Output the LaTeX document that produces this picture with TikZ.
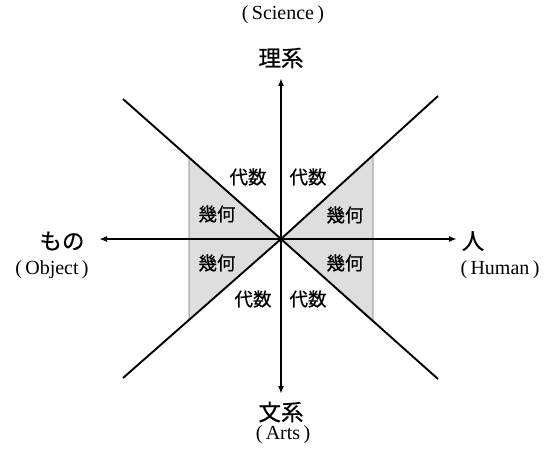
\documentclass[tikz,border=0pt]{standalone}
\usepackage{fontspec}
\setmainfont{Liberation Serif}
\newfontfamily\jp[FakeBold=0.6]{Noto Sans CJK JP}
\usetikzlibrary{arrows.meta}
\begin{document}
\begin{tikzpicture}[x=1pt,y=-1pt,
  axis/.style={line width=1.6pt,-{Latex[length=8pt,width=6pt]}},
  diag/.style={line width=1.9pt},
  region/.style={fill=black!13,draw=black!55,line width=0.6pt},
  inlab/.style={font=\jp\fontsize{18.5}{18.5}\selectfont,inner sep=0pt},
  axlab/.style={font=\jp\fontsize{22.5}{22.5}\selectfont,inner sep=0pt},
  enlab/.style={font=\fontsize{20}{20}\selectfont,inner sep=0pt}]
\useasboundingbox (0,0) rectangle (550,452);
\coordinate (O) at (281,239);
\coordinate (TL) at (123,99);
\coordinate (TR) at (438,96);
\coordinate (BL) at (123,378);
\coordinate (BR) at (438,379);
\coordinate (N) at (281,78);
\coordinate (S) at (281,394);
\coordinate (W) at (99,239);
\coordinate (E) at (457,239);
% gray regions
\path[region] (189,157.5) -- (189,239) -- (O) -- cycle;
\path[region] (189,239) -- (189,320) -- (O) -- cycle;
\path[region] (373,155) -- (373,239) -- (O) -- cycle;
\path[region] (373,239) -- (373,322) -- (O) -- cycle;
% diagonals
\draw[diag] (TL) -- (O) -- (BR);
\draw[diag] (BL) -- (O) -- (TR);
% axes
\draw[axis] (O) -- (N);
\draw[axis] (O) -- (S);
\draw[axis] (O) -- (W);
\draw[axis] (O) -- (E);
% inner labels
\node[inlab] (a1) at (248,177) {代数};
\node[inlab] (a2) at (308,177) {代数};
\node[inlab] (g1) at (217,214) {幾何};
\node[inlab] (g2) at (345,215) {幾何};
\node[inlab] (g3) at (217,263) {幾何};
\node[inlab] (g4) at (345,263) {幾何};
\node[inlab] (a3) at (253,299) {代数};
\node[inlab] (a4) at (308,299) {代数};
% axis labels
\node[enlab] (sci) at (283,15) {(\,Science\,)};
\node[axlab] (ri) at (281,58) {理系};
\node[axlab] (bun) at (281,412) {文系};
\node[enlab] (arts) at (283,435) {(\,Arts\,)};
\node[axlab] (mono) at (62,241) {もの};
\node[enlab] (obj) at (52,270) {(\,Object\,)};
\node[axlab] (hito) at (473,241) {人};
\node[enlab] (hum) at (500,270) {(\,Human\,)};
\end{tikzpicture}
\end{document}
